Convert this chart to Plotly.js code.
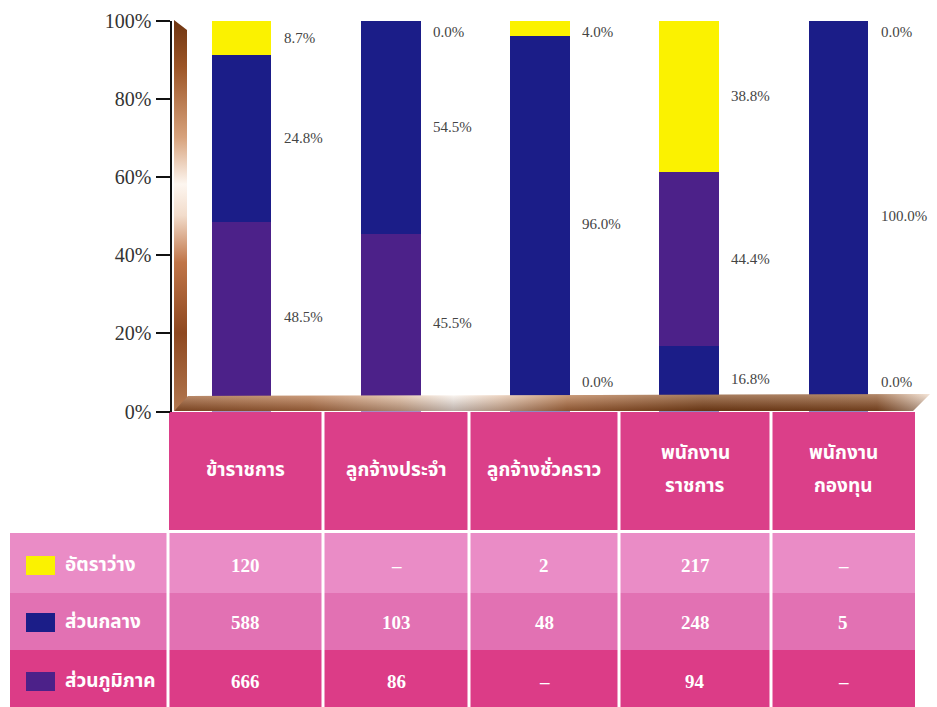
<!DOCTYPE html>
<html>
<head>
<meta charset="utf-8">
<script src="https://cdn.plot.ly/plotly-3.0.1.min.js"></script>
<style>html,body{margin:0;padding:0;background:#fff;}#chart{width:937px;height:707px;}</style>
</head>
<body>
<div id="chart"></div>
<script>
// ---------- data ----------
const categories = ['ข้าราชการ', 'ลูกจ้างประจำ', 'ลูกจ้างชั่วคราว', 'พนักงาน<br>ราชการ', 'พนักงาน<br>กองทุน'];
const seriesNames = ['อัตราว่าง', 'ส่วนกลาง', 'ส่วนภูมิภาค'];
const vacant   = [120, null, 2, 217, null];
const central  = [588, 103, 48, 248, 5];
const regional = [666, 86, null, 94, null];
const labelVacant   = ['8.7%', '0.0%', '4.0%', '38.8%', '0.0%'];
const labelCentral  = ['24.8%', '54.5%', '96.0%', '44.4%', '100.0%'];
const labelRegional = ['48.5%', '45.5%', '0.0%', '16.8%', '0.0%'];
const yTicks = [0, 20, 40, 60, 80, 100];

// ---------- style ----------
const W = 937, H = 707;
const YELLOW = '#fbf200', BLUE = '#1b1d88', PURPLE = '#4c2189';
const SERIF = 'Liberation Serif, DejaVu Serif, serif';
const THAI = 'Noto Sans Thai, Noto Sans Thai UI, Loma, Garuda, Noto Sans, sans-serif';
const px = x => x / W;
const py = y => 1 - y / H;

const totals = categories.map((_, i) => (vacant[i] || 0) + (central[i] || 0) + (regional[i] || 0));
const pct = arr => arr.map((v, i) => (v || 0) / totals[i] * 100);
const pReg = pct(regional), pCen = pct(central), pVac = pct(vacant);
const xs = categories.map((_, i) => i);

// bar 4 in the original has the bottom two colours swapped
const colReg = xs.map(i => i === 3 ? BLUE : PURPLE);
const colCen = xs.map(i => i === 3 ? PURPLE : BLUE);

const traces = [
  {type: 'bar', x: xs, y: pReg, name: seriesNames[2], marker: {color: colReg, line: {width: 0}}, width: 0.4, hoverinfo: 'skip'},
  {type: 'bar', x: xs, y: pCen, name: seriesNames[1], marker: {color: colCen, line: {width: 0}}, width: 0.4, hoverinfo: 'skip'},
  {type: 'bar', x: xs, y: pVac, name: seriesNames[0], marker: {color: YELLOW, line: {width: 0}}, width: 0.4, hoverinfo: 'skip'}
];

// ---------- percentage labels ----------
const annotations = [];
const clamp = v => Math.max(7.5, Math.min(97, v));
xs.forEach(i => {
  const segs = [[0, pReg[i], labelRegional[i]], [pReg[i], pCen[i], labelCentral[i]], [pReg[i] + pCen[i], pVac[i], labelVacant[i]]];
  segs.forEach(([b, h, t]) => {
    annotations.push({x: i, y: clamp(b + h / 2), xref: 'x', yref: 'y', text: t, showarrow: false,
      xanchor: 'left', yanchor: 'middle', xshift: 40, font: {family: SERIF, size: 15, color: '#444'}});
  });
});

// ---------- table ----------
const colEdges = [169, 323, 469, 619, 771, 915];
const rowEdges = [532, 593, 650, 707];
const rowColors = ['#ea8cc6', '#e271b3', '#dc3c87'];
const headerColor = '#db3f89';
const shapes = [];
shapes.push({type: 'rect', xref: 'paper', yref: 'paper', x0: px(colEdges[0]), x1: px(colEdges[5]), y0: py(530), y1: py(412), fillcolor: headerColor, line: {width: 0}, layer: 'below'});
rowColors.forEach((c, r) => {
  shapes.push({type: 'rect', xref: 'paper', yref: 'paper', x0: px(10), x1: px(colEdges[5]), y0: py(rowEdges[r + 1]), y1: py(rowEdges[r]), fillcolor: c, line: {width: 0}, layer: 'below'});
});
// white grid lines
colEdges.slice(1, 5).forEach(x => {
  shapes.push({type: 'line', xref: 'paper', yref: 'paper', x0: px(x), x1: px(x), y0: py(412), y1: py(707), line: {color: '#fff', width: 3}});
});
shapes.push({type: 'line', xref: 'paper', yref: 'paper', x0: px(colEdges[0] - 1), x1: px(colEdges[0] - 1), y0: py(532), y1: py(707), line: {color: '#fff', width: 3}});
shapes.push({type: 'line', xref: 'paper', yref: 'paper', x0: px(10), x1: px(colEdges[5]), y0: py(531.5), y1: py(531.5), line: {color: '#fff', width: 3}});

const colCenters = colEdges.slice(0, 5).map((x, i) => (x + colEdges[i + 1]) / 2);
const rowCenters = [565, 622, 681];
const seriesColors = [YELLOW, BLUE, PURPLE];
const rowData = [vacant, central, regional];

categories.forEach((c, i) => {
  const lines = c.split('<br>');
  const lineGap = 33;
  const top = 470 - (lines.length - 1) * lineGap / 2;
  lines.forEach((ln, k) => {
    annotations.push({x: px(colCenters[i]), y: py(top + k * lineGap), xref: 'paper', yref: 'paper', text: '<b>' + ln + '</b>', showarrow: false,
      xanchor: 'center', yanchor: 'middle', font: {family: THAI, size: 19, color: '#fff'}});
  });
});
seriesNames.forEach((n, r) => {
  shapes.push({type: 'rect', xref: 'paper', yref: 'paper', x0: px(26), x1: px(55), y0: py(rowCenters[r] + 10), y1: py(rowCenters[r] - 9),
    fillcolor: seriesColors[r], line: {width: 0}});
  annotations.push({x: px(63), y: py(rowCenters[r]), xref: 'paper', yref: 'paper', text: '<b>' + n + '</b>', showarrow: false,
    xanchor: 'left', yanchor: 'middle', font: {family: THAI, size: 19, color: '#fff'}});
  rowData[r].forEach((v, i) => {
    annotations.push({x: px(colCenters[i]), y: py(rowCenters[r]), xref: 'paper', yref: 'paper', text: '<b>' + (v == null ? '–' : v) + '</b>', showarrow: false,
      xanchor: 'center', yanchor: 'middle', font: {family: SERIF, size: 19, color: '#fff'}});
  });
});

// ---------- 3D wall / floor decoration ----------
const svg = `<svg xmlns="http://www.w3.org/2000/svg" width="${W}" height="${H}" viewBox="0 0 ${W} ${H}" preserveAspectRatio="none">
<defs>
<linearGradient id="wall" x1="0" y1="0" x2="0" y2="1">
<stop offset="0" stop-color="#6e3512"/><stop offset="0.12" stop-color="#9c5527"/><stop offset="0.3" stop-color="#d7a27c"/>
<stop offset="0.42" stop-color="#fdf6f0"/><stop offset="0.5" stop-color="#f2dccb"/><stop offset="0.62" stop-color="#c07548"/>
<stop offset="0.8" stop-color="#8e4820"/><stop offset="1" stop-color="#b27850"/>
</linearGradient>
<linearGradient id="floor" x1="0" y1="0" x2="1" y2="0">
<stop offset="0" stop-color="#9a5a30"/><stop offset="0.18" stop-color="#b8774c"/><stop offset="0.3" stop-color="#e4c2a8"/>
<stop offset="0.37" stop-color="#ffffff"/><stop offset="0.43" stop-color="#ecd0bb"/><stop offset="0.52" stop-color="#b47448"/>
<stop offset="0.7" stop-color="#7c4219"/><stop offset="0.93" stop-color="#8a5028"/><stop offset="1" stop-color="#f2e2d4"/>
</linearGradient>
<linearGradient id="shade" x1="0" y1="0" x2="0" y2="1">
<stop offset="0" stop-color="#fff2e6" stop-opacity="0.35"/><stop offset="1" stop-color="#3a1805" stop-opacity="0.35"/>
</linearGradient>
</defs>
<polygon points="174,20 187,30 187,400 174,411" fill="url(#wall)"/>
<polygon points="174,411 188,396 930,394 913,411" fill="url(#floor)"/>
<polygon points="174,411 188,396 930,394 913,411" fill="url(#shade)"/>
</svg>`;
const images = [{source: 'data:image/svg+xml;base64,' + btoa(svg), xref: 'paper', yref: 'paper', x: 0, y: 1,
  sizex: 1, sizey: 1, xanchor: 'left', yanchor: 'top', sizing: 'stretch', layer: 'above'}];

// ---------- layout ----------
const xLeft = 172, xRight = 930, x0px = 241.5, xStep = 149.25;
const layout = {
  width: W, height: H,
  margin: {l: 0, r: 0, t: 0, b: 0, pad: 0},
  paper_bgcolor: '#fff', plot_bgcolor: 'rgba(0,0,0,0)',
  barmode: 'stack', showlegend: false,
  xaxis: {domain: [px(xLeft), px(xRight)], range: [(xLeft - x0px) / xStep, (xRight - x0px) / xStep],
    showgrid: false, zeroline: false, showline: false, showticklabels: false, ticks: '', fixedrange: true},
  yaxis: {domain: [py(411.5), py(20.5)], range: [0, 100], tickvals: yTicks, ticktext: yTicks.map(v => v + '%'),
    ticks: 'outside', ticklen: 14, tickwidth: 2, tickcolor: '#111', showline: true, linecolor: '#111', linewidth: 2.5,
    showgrid: false, zeroline: false, tickfont: {family: SERIF, size: 20, color: '#333'}, fixedrange: true},
  shapes: shapes, annotations: annotations, images: images
};

Plotly.newPlot('chart', traces, layout, {displayModeBar: false, staticPlot: true});
</script>
</body>
</html>
